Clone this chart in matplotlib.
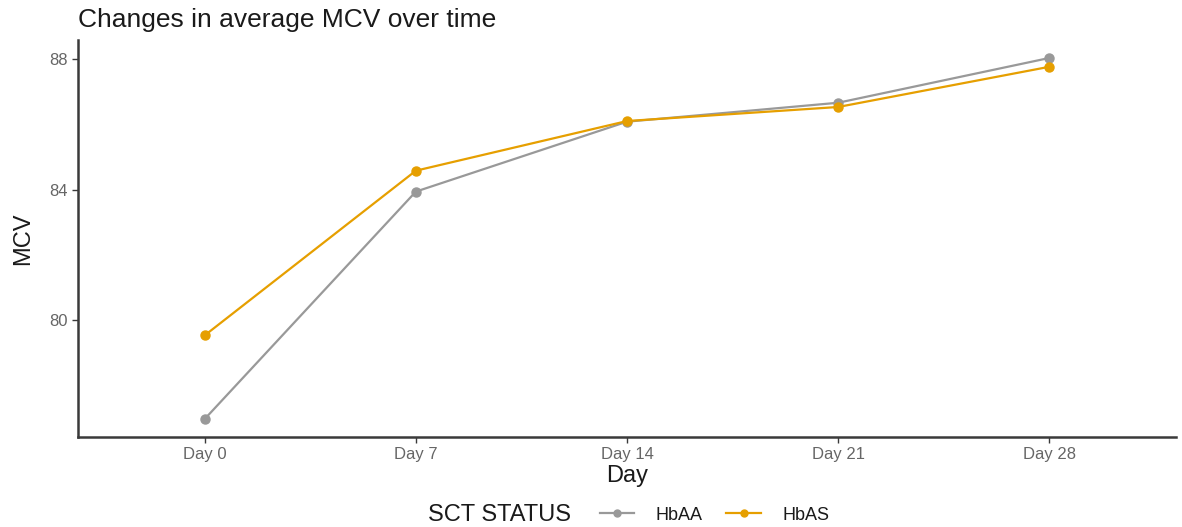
import matplotlib.pyplot as plt
from matplotlib.lines import Line2D

plt.rcParams['font.family'] = ['Liberation Sans', 'DejaVu Sans']

days = ['Day 0', 'Day 7', 'Day 14', 'Day 21', 'Day 28']
hbaa = [76.98, 83.94, 86.08, 86.66, 88.03]
hbas = [79.54, 84.58, 86.10, 86.53, 87.76]
groups = ['HbAA', 'HbAS']
colors = ['#999999', '#E69F00']

W, H = 1182, 527
fig = plt.figure(figsize=(W / 100, H / 100), dpi=100)
ax = fig.add_axes([78 / W, 1 - 437 / H, (1176 - 78) / W, (437 - 40) / H])

x = range(len(days))
for vals, name, col in zip([hbaa, hbas], groups, colors):
    ax.plot(x, vals, color=col, lw=1.6, marker='o', ms=6.5, label=name)

ax.set_xlim(-0.6, len(days) - 1 + 0.6)
ax.set_ylim(76.43, 88.58)
ax.set_xticks(list(x))
ax.set_xticklabels(days)
ax.set_yticks([80, 84, 88])

for s in ['top', 'right']:
    ax.spines[s].set_visible(False)
for s in ['left', 'bottom']:
    ax.spines[s].set_color('#3a3a3a')
    ax.spines[s].set_linewidth(1.8)
ax.tick_params(colors='#3a3a3a', labelcolor='#666666', labelsize=12, length=4, width=1)

ax.set_xlabel('Day', fontsize=17, labelpad=2, color='#1a1a1a')
ax.set_ylabel('MCV', fontsize=17, labelpad=11, color='#1a1a1a')
fig.text(78 / W, 1 - 20 / H, 'Changes in average MCV over time', fontsize=19,
         va='center', ha='left', color='#1a1a1a')

# legend at bottom: title on the left, keys to the right
fig.text(428 / W, 1 - 515 / H, 'SCT STATUS', fontsize=17, va='center', ha='left',
         color='#1a1a1a')
handles = [Line2D([], [], color=c, lw=1.6, marker='o', ms=5) for c in colors]
fig.legend(handles, groups, loc='center left', bbox_to_anchor=(600 / W, 1 - 515 / H),
           ncol=2, frameon=False, fontsize=13, handlelength=1.9, handletextpad=1.2,
           columnspacing=1.3, borderpad=0, borderaxespad=0, labelcolor='#1a1a1a')

fig.savefig('out.png', dpi=100)
